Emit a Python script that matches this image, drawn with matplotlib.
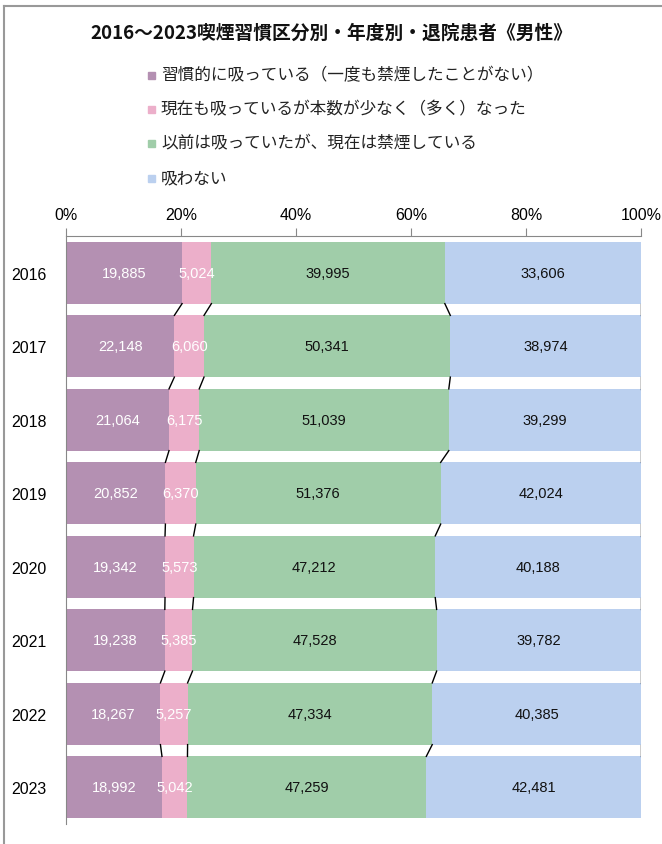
import numpy as np
import matplotlib
matplotlib.use("Agg")
import matplotlib.pyplot as plt
from matplotlib.lines import Line2D
from matplotlib.patches import Rectangle

plt.rcParams['font.family'] = ['Liberation Sans', 'Noto Sans CJK JP', 'DejaVu Sans']

title = "2016～2023喫煙習慣区分別・年度別・退院患者《男性》"
years = ['2016', '2017', '2018', '2019', '2020', '2021', '2022', '2023']
series_names = [
    "習慣的に吸っている（一度も禁煙したことがない）",
    "現在も吸っているが本数が少なく（多く）なった",
    "以前は吸っていたが、現在は禁煙している",
    "吸わない",
]
habitual = [19885, 22148, 21064, 20852, 19342, 19238, 18267, 18992]
reduced = [5024, 6060, 6175, 6370, 5573, 5385, 5257, 5042]
quit = [39995, 50341, 51039, 51376, 47212, 47528, 47334, 47259]
never = [33606, 38974, 39299, 42024, 40188, 39782, 40385, 42481]

colors = ['#b490b2', '#ecafca', '#a0cda9', '#bbd0ef']
label_colors = ['white', 'white', '#111111', '#111111']

data = np.array([habitual, reduced, quit, never], dtype=float)
share = data / data.sum(axis=0) * 100
cum = np.vstack([np.zeros(len(years)), np.cumsum(share, axis=0)])

fig = plt.figure(figsize=(6.62, 8.45), dpi=100)
ax = fig.add_axes([66 / 662, 1 - 825 / 845, (641 - 66) / 662, (825 - 237) / 845])

y = np.arange(len(years))
bar_h = 0.84
for i in range(4):
    ax.barh(y, share[i], left=cum[i], height=bar_h, color=colors[i], edgecolor='none')
    for j in range(len(years)):
        ax.text(cum[i][j] + share[i][j] / 2, y[j], f"{int(data[i][j]):,}",
                ha='center', va='center', fontsize=10.5, color=label_colors[i])

# series lines between bars
for k in range(1, 5):
    for j in range(len(years) - 1):
        ax.plot([cum[k][j], cum[k][j + 1]], [y[j] + bar_h / 2, y[j + 1] - bar_h / 2],
                color='black', lw=1.0)

ax.set_xlim(0, 100)
ax.set_ylim(len(years) - 0.5, -0.5)
ax.xaxis.tick_top()
ax.set_xticks([0, 20, 40, 60, 80, 100])
ax.set_xticklabels([f"{v}%" for v in [0, 20, 40, 60, 80, 100]], fontsize=11.5)
ax.tick_params(axis='x', direction='out', length=6, color='#888888', pad=4)
ax.set_yticks(y)
ax.set_yticklabels(years, fontsize=11.5)
ax.tick_params(axis='y', length=0, pad=14)
for s in ['right', 'bottom']:
    ax.spines[s].set_visible(False)
ax.spines['top'].set_color('#888888')
ax.spines['left'].set_color('#888888')

fig.text(0.5, 1 - 33 / 845, title, ha='center', va='center', fontsize=13.5, weight='bold',
         family=['Noto Sans CJK JP', 'DejaVu Sans'], color='#111111')

leg_y = [76, 110, 144, 179]
for i, name in enumerate(series_names):
    yy = 1 - leg_y[i] / 845
    fig.patches.append(Rectangle((148 / 662, yy - 3.5 / 845), 7 / 662, 7 / 845,
                                 transform=fig.transFigure, color=colors[i]))
    fig.text(161 / 662, yy, name, ha='left', va='center', fontsize=12,
             family=['Noto Sans CJK JP', 'DejaVu Sans'], color='#222222')

# outer frame of the chart area
fig.add_artist(Line2D([4 / 662, 1], [1 - 7 / 845, 1 - 7 / 845], transform=fig.transFigure,
                      color='#999999', lw=1.5))
fig.add_artist(Line2D([4 / 662, 4 / 662], [0, 1 - 7 / 845], transform=fig.transFigure,
                      color='#999999', lw=1.5))

plt.savefig('out.png', dpi=100)
